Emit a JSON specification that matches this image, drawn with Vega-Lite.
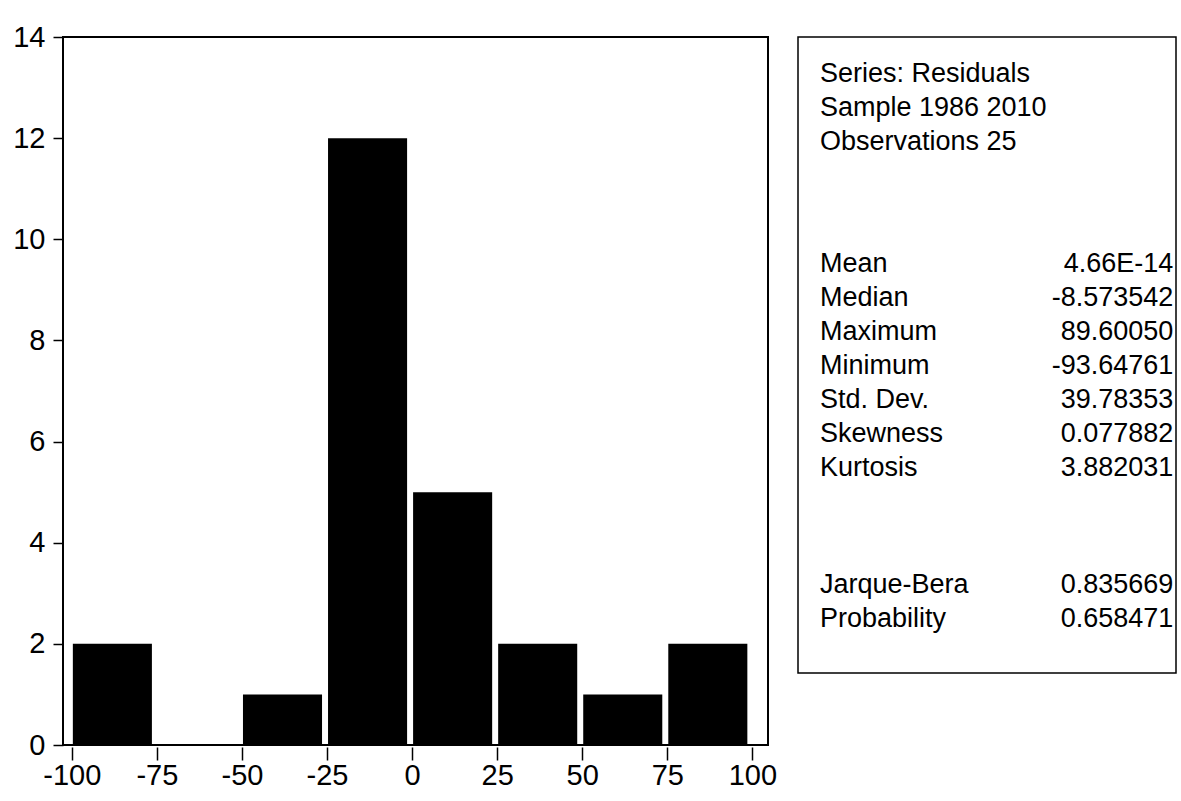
{
  "$schema": "https://vega.github.io/schema/vega-lite/v6.json",
  "background": "white",
  "padding": {"left": 11, "top": 22, "right": 0, "bottom": 0},
  "bounds": "flush",
  "spacing": 30,
  "config": {"font": "Liberation Sans", "view": {"stroke": null}},
  "hconcat": [
    {
      "width": 705,
      "height": 708,
      "view": {"stroke": "black", "strokeWidth": 2},
      "data": {"values": [
        {"bin_start": -100, "bin_end": -75, "count": 2},
        {"bin_start": -75, "bin_end": -50, "count": 0},
        {"bin_start": -50, "bin_end": -25, "count": 1},
        {"bin_start": -25, "bin_end": 0, "count": 12},
        {"bin_start": 0, "bin_end": 25, "count": 5},
        {"bin_start": 25, "bin_end": 50, "count": 2},
        {"bin_start": 50, "bin_end": 75, "count": 1},
        {"bin_start": 75, "bin_end": 100, "count": 2}
      ]},
      "mark": {"type": "bar", "color": "black", "xOffset": 1, "x2Offset": -5},
      "encoding": {
        "x": {"field": "bin_start", "type": "quantitative",
          "scale": {"domain": [-102.6, 104.6], "nice": false, "zero": false},
          "axis": {"values": [-100, -75, -50, -25, 0, 25, 50, 75, 100], "domain": false, "grid": false,
            "labelExpr": "datum.value < 0 ? '-' + abs(datum.value) : '' + datum.value",
            "tickSize": 13, "tickColor": "black", "tickWidth": 1.5, "offset": 2,
            "labelFontSize": 29, "labelColor": "black", "labelPadding": 1, "labelFlush": false, "title": null}},
        "x2": {"field": "bin_end"},
        "y": {"field": "count", "type": "quantitative",
          "scale": {"domain": [0, 14], "nice": false},
          "axis": {"values": [0, 2, 4, 6, 8, 10, 12, 14], "domain": false, "grid": false,
            "tickSize": 10, "tickColor": "black", "tickWidth": 1.5,
            "labelFontSize": 29, "labelColor": "black", "labelPadding": 8, "title": null}},
        "y2": {"datum": 0}
      }
    },
    {
      "width": 378,
      "height": 636,
      "view": {"stroke": "black", "strokeWidth": 1.5},
      "data": {"values": [
        {"line": 1.1, "label": "Series: Residuals", "value": ""},
        {"line": 2.1, "label": "Sample 1986 2010", "value": ""},
        {"line": 3.1, "label": "Observations 25", "value": ""},
        {"line": 6.66, "label": "Mean", "value": "4.66E-14"},
        {"line": 7.66, "label": "Median", "value": "-8.573542"},
        {"line": 8.66, "label": "Maximum", "value": "89.60050"},
        {"line": 9.66, "label": "Minimum", "value": "-93.64761"},
        {"line": 10.66, "label": "Std. Dev.", "value": "39.78353"},
        {"line": 11.66, "label": "Skewness", "value": "0.077882"},
        {"line": 12.66, "label": "Kurtosis", "value": "3.882031"},
        {"line": 16.1, "label": "Jarque-Bera", "value": "0.835669"},
        {"line": 17.1, "label": "Probability", "value": "0.658471"}
      ]},
      "encoding": {
        "y": {"field": "line", "type": "quantitative", "scale": {"domain": [0, 18.7], "reverse": true, "nice": false, "zero": false}, "axis": null}
      },
      "layer": [
        {
          "mark": {"type": "text", "align": "left", "baseline": "middle", "fontSize": 27, "color": "black"},
          "encoding": {
            "x": {"datum": 5.8, "type": "quantitative", "scale": {"domain": [0, 100], "nice": false, "zero": false}, "axis": null},
            "text": {"field": "label"}
          }
        },
        {
          "mark": {"type": "text", "align": "right", "baseline": "middle", "fontSize": 27, "color": "black"},
          "encoding": {
            "x": {"datum": 99.3, "type": "quantitative", "scale": {"domain": [0, 100], "nice": false, "zero": false}, "axis": null},
            "text": {"field": "value"}
          }
        }
      ]
    }
  ]
}
